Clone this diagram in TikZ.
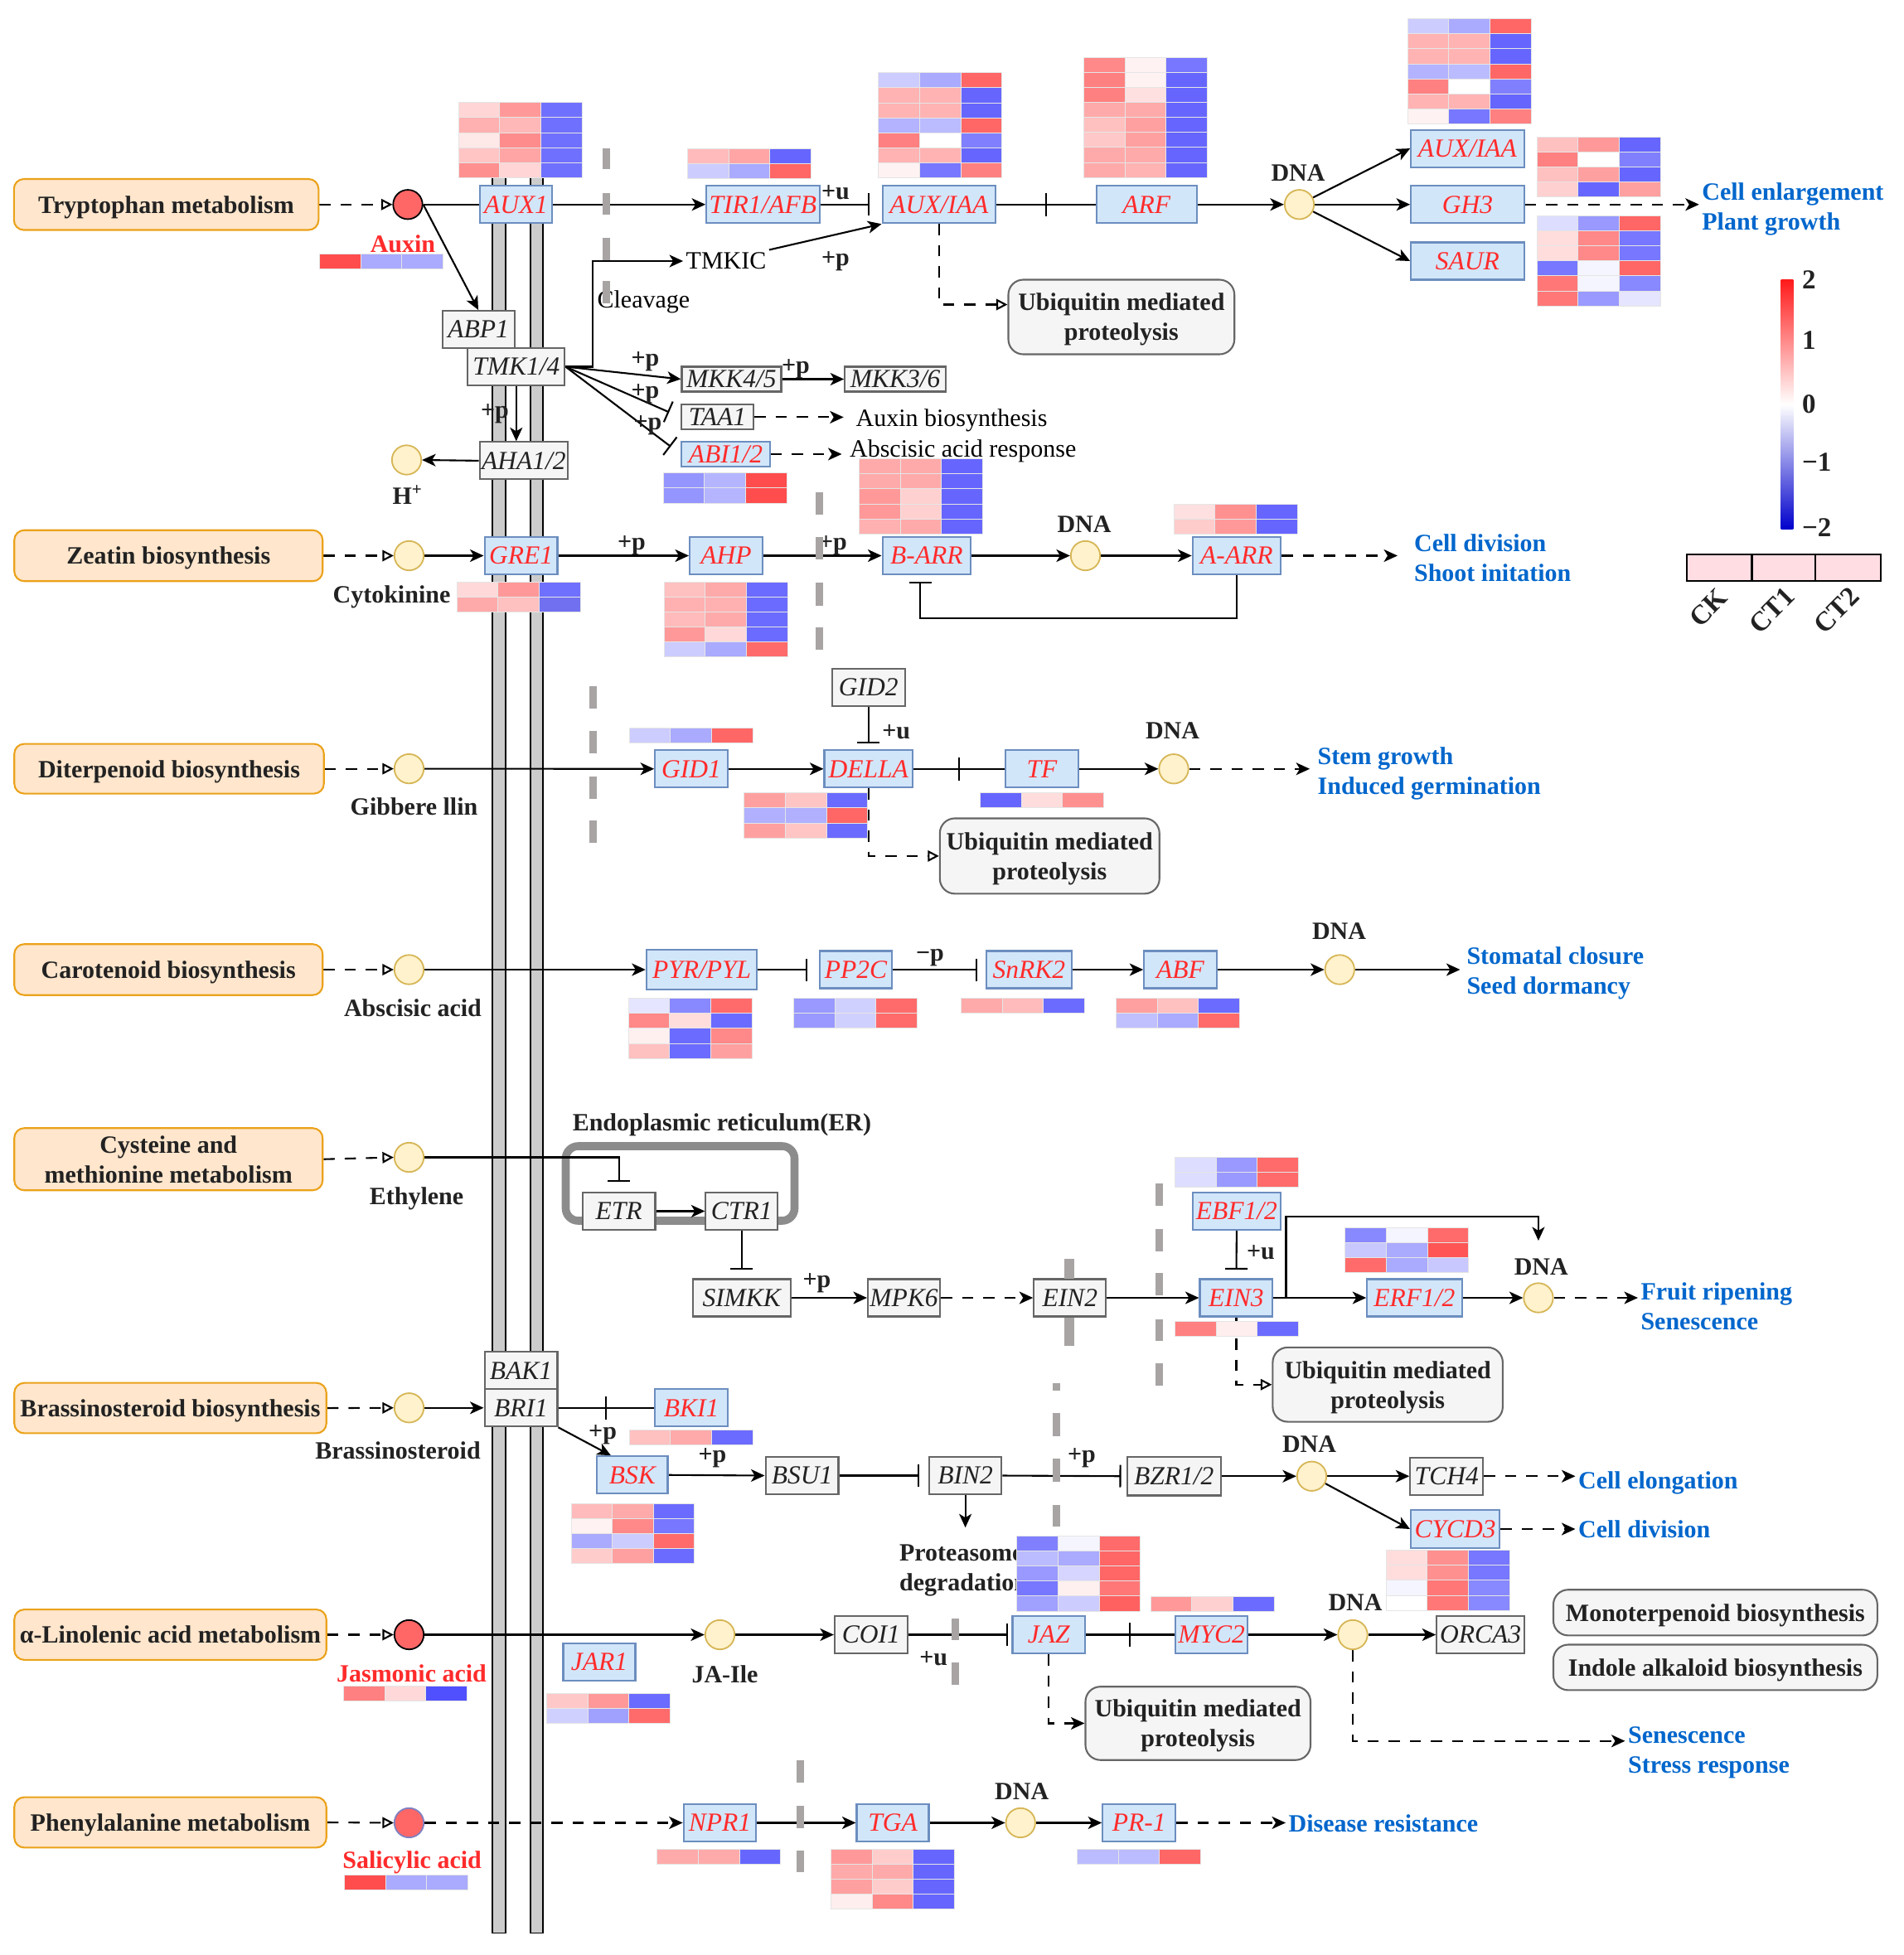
\documentclass[tikz,border=0pt]{standalone}
\usepackage{fontspec}
\setmainfont{Liberation Serif}
\usetikzlibrary{arrows.meta,calc,decorations.markings}
\pgfdeclarelayer{bg}\pgfdeclarelayer{fg}\pgfsetlayers{bg,main,fg}
\definecolor{orF}{HTML}{FFE6CC}
\definecolor{orD}{HTML}{EBA21A}
\definecolor{gbF}{HTML}{D2E6FA}
\definecolor{gbD}{HTML}{6C8EBF}
\definecolor{gnR}{HTML}{FF2B2B}
\definecolor{ggF}{HTML}{F5F5F5}
\definecolor{ggD}{HTML}{666666}
\definecolor{txD}{HTML}{222222}
\definecolor{mtF}{HTML}{FFF2CC}
\definecolor{mtD}{HTML}{D6B656}
\definecolor{rdF}{HTML}{FF6666}
\definecolor{blueOut}{HTML}{0066CC}
\definecolor{memG}{HTML}{CCCCCC}
\definecolor{mdG}{HTML}{A8A4A4}
\definecolor{erG}{HTML}{8C8C8C}
\definecolor{lgP}{HTML}{FFDDE3}
\definecolor{cbR}{HTML}{FF1A1A}
\definecolor{cbB}{HTML}{0000CC}
\definecolor{saD}{HTML}{8080C0}
\newcommand{\fT}{\fontsize{10}{12}\selectfont}
\newcommand{\fG}{\fontsize{10.5}{12}\selectfont\itshape}
\newcommand{\fL}{\fontsize{11}{13}\selectfont\bfseries}
\newcommand{\heatm}[3]{%
 \foreach \ca/\cb/\cc [count=\r from 0] in {#3}{%
  \definecolor{hmA}{HTML}{\ca}\definecolor{hmB}{HTML}{\cb}\definecolor{hmC}{HTML}{\cc}%
  \filldraw[hmcell,fill=hmA] ({#1},{#2+\r*12.1}) rectangle ++(33.1,12.1);
  \filldraw[hmcell,fill=hmB] ({#1+33.1},{#2+\r*12.1}) rectangle ++(33.1,12.1);
  \filldraw[hmcell,fill=hmC] ({#1+66.2},{#2+\r*12.1}) rectangle ++(33.1,12.1);
 }}
\begin{document}
\begin{tikzpicture}[x=0.5pt,y=-0.5pt,
 pw/.style={draw=orD, fill=orF, rounded corners=4pt, line width=0.7pt, font=\fT\bfseries, text=txD, align=center, inner sep=0pt, text depth=0pt},
 gb/.style={draw=gbD, fill=gbF, line width=0.7pt, font=\fG, text=gnR, inner sep=0pt, minimum height=15pt, text depth=0pt},
 gg/.style={draw=ggD, fill=ggF, line width=0.7pt, font=\fG, text=txD, inner sep=0pt, minimum height=15pt, text depth=0pt},
 mt/.style={circle, draw=mtD, fill=mtF, line width=0.6pt, minimum size=11.8pt, inner sep=0pt},
 rc/.style={circle, draw=black, fill=rdF, line width=0.6pt, minimum size=11.8pt, inner sep=0pt},
 ub/.style={draw=ggD, fill=ggF, rounded corners=6pt, line width=0.7pt, font=\fT\bfseries, text=txD, align=center, inner sep=0pt, text depth=0pt},
 lb/.style={font=\fT\bfseries, text=txD, inner sep=1pt, text depth=0pt},
 rg/.style={font=\fT, text=black, inner sep=1pt, text depth=0pt},
 ot/.style={font=\fT\bfseries, text=blueOut, align=left, anchor=west, inner sep=1pt, text depth=0pt},
 cn/.style={line width=0.7pt, draw=black},
 arr/.style={cn, -{Stealth[length=5.5pt,width=5pt,inset=1.5pt]}},
 inh/.style={cn, -{Bar[width=9pt]}},
 opt/.style={cn, -{Triangle[open,length=4.5pt,width=4.5pt]}},
 dsh/.style={dash pattern=on 4.5pt off 4pt},
 midbar/.style={postaction={decorate,decoration={markings,mark=at position 0.5 with {\draw[-,solid,line width=0.7pt] (0,-4.75pt) -- (0,4.75pt);}}}},
 memdash/.style={draw=mdG, line width=3pt},
 hmcell/.style={draw=black!10, line width=0.3pt}]
\useasboundingbox (0,0) rectangle (1531.33,1572.67);
\begin{pgfonlayer}{bg}
\fill[white] (0,0) rectangle (1531.33,1572.67);
\filldraw[fill=memG, draw=black, line width=0.5pt] (396,143) rectangle (406.5,1555);
\filldraw[fill=memG, draw=black, line width=0.5pt] (426.7,143) rectangle (436.8,1555);
\draw[draw=erG, line width=3.2pt, rounded corners=5pt] (455,922) rectangle (639,982);
\end{pgfonlayer}

% ---------- pathway boxes ----------
\node[pw, minimum width=122.5pt, minimum height=20.5pt] (pTrp) at (133.7,164.5) {Tryptophan metabolism};
\node[pw, minimum width=124pt, minimum height=20.5pt] (pZea) at (135.5,447) {Zeatin biosynthesis};
\node[pw, minimum width=124.5pt, minimum height=20pt] (pDit) at (136,618.4) {Diterpenoid biosynthesis};
\node[pw, minimum width=124pt, minimum height=20.5pt] (pCar) at (135.5,780) {Carotenoid biosynthesis};
\node[pw, minimum width=124pt, minimum height=25pt] (pCys) at (135.5,932.5) {Cysteine and\\methionine metabolism};
\node[pw, minimum width=125.5pt, minimum height=20.25pt] (pBra) at (137,1132.7) {Brassinosteroid biosynthesis};
\node[pw, minimum width=125.5pt, minimum height=20.25pt] (pLin) at (137,1315) {α-Linolenic acid metabolism};
\node[pw, minimum width=125.5pt, minimum height=20.25pt] (pPhe) at (137,1466) {Phenylalanine metabolism};

% ---------- circles ----------
\node[rc] (cAux) at (328,164.5) {};
\node[mt] (cH) at (327,370) {};
\node[mt] (cCyt) at (329,447) {};
\node[mt] (cGib) at (329,618.4) {};
\node[mt] (cAba) at (329,780) {};
\node[mt] (cEth) at (329,931) {};
\node[mt] (cBr) at (329,1132.5) {};
\node[rc] (cJa) at (329,1315) {};
\node[rc, draw=saD] (cSa) at (329,1466.3) {};
\node[mt] (dna1) at (1045,164.5) {};
\node[mt] (dna2) at (873,447) {};
\node[mt] (dna3) at (944,618.5) {};
\node[mt] (dna4) at (1077.5,780) {};
\node[mt] (dna5) at (1237.3,1044) {};
\node[mt] (dna6) at (1055,1187.5) {};
\node[mt] (cJaIle) at (579,1315) {};
\node[mt] (dna7) at (1088,1315) {};
\node[mt] (dna8) at (820.8,1466.3) {};

% ---------- genes row 1 ----------
\node[gb, minimum width=29pt] (aux1) at (415,164.5) {AUX1};
\node[gb, minimum width=45.5pt] (tir1) at (613.6,164.5) {TIR1/AFB};
\node[gb, minimum width=45.5pt] (auxiaa) at (755.2,164.5) {AUX/IAA};
\node[gb, minimum width=40.5pt] (arf) at (922.2,164.5) {ARF};
\node[gb, minimum width=45.5pt] (auxiaa2) at (1180.3,119.4) {AUX/IAA};
\node[gb, minimum width=45.5pt] (gh3) at (1180.3,164.5) {GH3};
\node[gb, minimum width=45.5pt] (saur) at (1180.3,210) {SAUR};
\node[gg, minimum width=29pt] (abp1) at (384.7,265) {ABP1};
\node[gg, minimum width=39pt] (tmk) at (415.2,295) {TMK1/4};
\node[gg, minimum width=35.5pt] (aha) at (421.3,370.6) {AHA1/2};
\node[gg, minimum width=40pt, minimum height=10pt] (mkk45) at (588.3,305) {MKK4/5};
\node[gg, minimum width=40.5pt, minimum height=10pt] (mkk36) at (720,305) {MKK3/6};
\node[gg, minimum width=29pt, minimum height=10pt] (taa1) at (577,335.6) {TAA1};
\node[gb, minimum width=35.5pt, minimum height=10pt] (abi) at (583.6,365.3) {ABI1/2};
% row 2
\node[gb, minimum width=29.3pt] (gre1) at (419,447) {GRE1};
\node[gb, minimum width=29.3pt] (ahp) at (584,447) {AHP};
\node[gb, minimum width=35.5pt] (barr) at (745.2,447) {B-ARR};
\node[gb, minimum width=35.5pt] (aarr) at (994.6,447) {A-ARR};
% row 3
\node[gb, minimum width=29.2pt] (gid1) at (556,618.5) {GID1};
\node[gb, minimum width=35.5pt] (della) at (698.5,618.5) {DELLA};
\node[gg, minimum width=29.2pt] (gid2) at (698.5,553) {GID2};
\node[gb, minimum width=29.2pt] (tf) at (838,618.5) {TF};
% row 4
\node[gb, minimum width=44.5pt, minimum height=16pt] (pyr) at (564.4,780) {PYR/PYL};
\node[gb, minimum width=29.2pt] (pp2c) at (688.4,780) {PP2C};
\node[gb, minimum width=34.2pt] (snrk2) at (827.6,780) {SnRK2};
\node[gb, minimum width=29.2pt] (abf) at (949.4,780) {ABF};
% row 5
\node[gg, minimum width=29.3pt] (etr) at (497.7,974.3) {ETR};
\node[gg, minimum width=28.9pt] (ctr1) at (596.5,974.3) {CTR1};
\node[gg, minimum width=39.3pt] (simkk) at (596.5,1044) {SIMKK};
\node[gg, minimum width=29pt] (mpk6) at (727,1044) {MPK6};
\node[gg, minimum width=29pt] (ein2) at (860.5,1044) {EIN2};
\node[gb, minimum width=29.3pt] (ein3) at (994.3,1044) {EIN3};
\node[gb, minimum width=35.4pt] (ebf) at (994.6,974.3) {EBF1/2};
\node[gb, minimum width=38.1pt] (erf) at (1137.6,1044) {ERF1/2};
% row 6
\node[gg, minimum width=29.3pt] (bak1) at (419,1102.5) {BAK1};
\node[gg, minimum width=29.3pt] (bri1) at (419,1132.5) {BRI1};
\node[gb, minimum width=29.2pt] (bki1) at (556,1132.5) {BKI1};
\node[gb, minimum width=28.5pt] (bsk) at (508.5,1186.5) {BSK};
\node[gg, minimum width=29.3pt] (bsu1) at (645,1187) {BSU1};
\node[gg, minimum width=29.2pt] (bin2) at (776.4,1187) {BIN2};
\node[gg, minimum width=37.8pt, minimum height=15.5pt] (bzr) at (944.2,1187.5) {BZR1/2};
\node[gg, minimum width=29.3pt] (tch4) at (1163.5,1187.5) {TCH4};
\node[gb, minimum width=35.7pt, minimum height=15.5pt] (cycd3) at (1170.4,1230) {CYCD3};
% row 7
\node[gb, minimum width=29pt] (jar1) at (482,1337) {JAR1};
\node[gg, minimum width=29.3pt] (coi1) at (700.6,1315) {COI1};
\node[gb, minimum width=29.2pt] (jaz) at (843.5,1315) {JAZ};
\node[gb, minimum width=29.2pt] (myc2) at (974.4,1315) {MYC2};
\node[gg, minimum width=35.2pt] (orca3) at (1190.7,1315) {ORCA3};
% row 8
\node[gb, minimum width=29.2pt] (npr1) at (579,1466.3) {NPR1};
\node[gb, minimum width=29pt] (tga) at (718,1466.3) {TGA};
\node[gb, minimum width=29.4pt] (pr1) at (916.2,1466.3) {PR-1};

% ---------- grey rounded boxes ----------
\node[ub, minimum width=90.9pt, minimum height=30pt] (ub1) at (901.9,255) {Ubiquitin mediated\\proteolysis};
\node[ub, minimum width=88.3pt, minimum height=30.3pt] (ub2) at (844.2,688.6) {Ubiquitin mediated\\proteolysis};
\node[ub, minimum width=92.5pt, minimum height=29.9pt] (ub3) at (1116.1,1113.8) {Ubiquitin mediated\\proteolysis};
\node[ub, minimum width=90.5pt, minimum height=29.5pt] (ub4) at (963.5,1386.3) {Ubiquitin mediated\\proteolysis};
\node[ub, minimum width=130.3pt, minimum height=18.4pt] (mono) at (1379.6,1297.2) {Monoterpenoid biosynthesis};
\node[ub, minimum width=130.3pt, minimum height=18.3pt] (indole) at (1379.6,1341.3) {Indole alkaloid biosynthesis};

% ---------- labels ----------
\node[lb, text=gnR] (tAux) at (324,196) {Auxin};
\node[lb] (tH) at (328,398) {H\textsuperscript{+}};
\node[lb] (tCyt) at (315,478) {Cytokinine};
\node[lb] (tGib) at (333,649) {Gibbere llin};
\node[lb] (tAba) at (332,811) {Abscisic acid};
\node[lb] (tEth) at (335,962) {Ethylene};
\node[lb] (tBr) at (320,1167) {Brassinosteroid};
\node[lb, text=gnR] (tJa) at (331,1346) {Jasmonic acid};
\node[lb, text=gnR] (tSa) at (331.4,1496) {Salicylic acid};
\node[lb] (tJaIle) at (583,1347) {JA-Ile};
\node[lb] (dL1) at (1044,139) {DNA};
\node[lb] (dL2) at (872,422) {DNA};
\node[lb] (dL3) at (943,588) {DNA};
\node[lb] (dL4) at (1077,749) {DNA};
\node[lb] (dL5) at (1239.5,1019) {DNA};
\node[lb] (dL6) at (1053,1162) {DNA};
\node[lb] (dL7) at (1090,1289) {DNA};
\node[lb] (dL8) at (821.8,1441) {DNA};
\node[lb] (lu1) at (672,155) {+u};
\node[lb] (lu2) at (720.8,589) {+u};
\node[lb] (lu3) at (1014,1007.5) {+u};
\node[lb] (lu4) at (750.8,1334) {+u};
\node[lb] (lp1) at (672,208) {+p};
\node[lb] (lp2) at (398,331) {+p};
\node[lb] (lp3) at (519,289) {+p};
\node[lb] (lp4) at (519,315) {+p};
\node[lb] (lp5) at (521,340) {+p};
\node[lb] (lp6) at (640,295) {+p};
\node[lb] (lp7) at (508,437) {+p};
\node[lb] (lp8) at (670,437) {+p};
\node[lb] (lp9) at (657,1030) {+p};
\node[lb] (lp10) at (484.7,1152) {+p};
\node[lb] (lp11) at (573,1171) {+p};
\node[lb] (lp12) at (870,1171) {+p};
\node[lb] (lm1) at (748,768) {−p};
\node[rg, anchor=west] (tTMKIC) at (549.4,210) {TMKIC};
\node[rg, anchor=west] (tClv) at (478,241) {Cleavage};
\node[rg, anchor=west] (tAB) at (686,336) {Auxin biosynthesis};
\node[rg, anchor=west] (tAAR) at (681,360.5) {Abscisic acid response};
\node[lb, anchor=west, align=left] (tProt) at (721,1261) {Proteasome\\degradation};
\node[lb] (tER) at (580.6,903) {Endoplasmic reticulum(ER)};
\coordinate (byp) at (1237.3,998);
\coordinate (protTop) at (776.4,1228.8);

% ---------- outcome texts ----------
\node[ot] (outA) at (1366.5,166) {Cell enlargement\\Plant growth};
\node[ot] (outB) at (1135,448.6) {Cell division\\Shoot initation};
\node[ot] (outC) at (1057.4,619.8) {Stem growth\\Induced germination};
\node[ot] (outD) at (1177.3,780.5) {Stomatal closure\\Seed dormancy};
\node[ot] (outE) at (1317.3,1051) {Fruit ripening\\Senescence};
\node[ot] (outF) at (1267,1191) {Cell elongation};
\node[ot] (outG) at (1267,1230) {Cell division};
\node[ot] (outH) at (1307,1407.5) {Senescence\\Stress response};
\node[ot] (outI) at (1034,1467) {Disease resistance};

% ---------- legend ----------
\shade[top color=cbR, bottom color=cbB, middle color=white] (1432.4,225) rectangle (1442.2,425.8);
\node[font=\fL, text=txD, anchor=west, inner sep=1pt] (cb2) at (1447,225) {2};
\node[font=\fL, text=txD, anchor=west, inner sep=1pt] (cb1) at (1447,274) {1};
\node[font=\fL, text=txD, anchor=west, inner sep=1pt] (cb0) at (1447,325) {0};
\node[font=\fL, text=txD, anchor=west, inner sep=1pt] (cbm1) at (1447,371.5) {−1};
\node[font=\fL, text=txD, anchor=west, inner sep=1pt] (cbm2) at (1447,424.5) {−2};
\draw[fill=lgP, line width=0.8pt] (1356.8,445.8) rectangle (1408.9,467.3);
\draw[fill=lgP, line width=0.8pt] (1408.9,445.8) rectangle (1460.1,467.3);
\draw[fill=lgP, line width=0.8pt] (1460.1,445.8) rectangle (1512.5,467.3);
\node[font=\fL, text=txD, rotate=45, inner sep=0pt] (lCK) at (1374,489) {CK};
\node[font=\fL, text=txD, rotate=45, inner sep=0pt] (lCT1) at (1425,491) {CT1};
\node[font=\fL, text=txD, rotate=45, inner sep=0pt] (lCT2) at (1477,491) {CT2};

% ---------- membrane dashes ----------
\foreach \ya/\yb in {119/136,155/172.5,191/209,226/244} \draw[memdash] (487.6,\ya) -- (487.6,\yb);
\foreach \ya/\yb in {396/414,432/450,468.8/487,504.6/522.8} \draw[memdash] (659.2,\ya) -- (659.2,\yb);
\foreach \ya/\yb in {552/570,588/606,624.5/642.5,660.3/678.3} \draw[memdash] (477,\ya) -- (477,\yb);
\foreach \ya/\yb in {1012.5/1028.7,1059.7/1082.5} \draw[memdash, line width=4pt] (859.9,\ya) -- (859.9,\yb);
\foreach \ya/\yb in {1112.5/1118.5,1136.7/1155,1173.2/1192,1210.5/1228} \draw[memdash] (849.5,\ya) -- (849.5,\yb);
\foreach \ya/\yb in {952/970,988.7/1006.7,1024/1042,1061/1078.7,1096.7/1114.7} \draw[memdash] (932.5,\ya) -- (932.5,\yb);
\foreach \ya/\yb in {1301.75/1319,1337.5/1355.5} \draw[memdash] (768,\ya) -- (768,\yb);
\foreach \ya/\yb in {1415.75/1433.75,1452.5/1470.5,1488.75/1506.25} \draw[memdash] (643.6,\ya) -- (643.6,\yb);

% ---------- connectors ----------
\begin{pgfonlayer}{bg}
% row 1
\draw[opt,dsh] (pTrp.east) -- (cAux.west);
\draw[cn] (cAux.east) -- (aux1.west);
\draw[arr] (aux1.east) -- (tir1.west);
\draw[inh, shorten >=4.8pt] (tir1.east) -- (auxiaa.west);
\draw[cn, midbar] (auxiaa.east) -- (arf.west);
\draw[arr] (arf.east) -- (dna1.west);
\draw[arr] (dna1) -- (auxiaa2.west);
\draw[arr] (dna1.east) -- (gh3.west);
\draw[arr] (dna1) -- (saur.west);
\draw[arr,dsh] (gh3.east) -- (gh3.east -| outA.west);
\draw[opt,dsh] (auxiaa.south) |- ([yshift=5pt]ub1.west);
\draw[arr] (cAux.east) -- (abp1.north);
\draw[arr] (tmk.south) -- (tmk.south |- aha.north);
\draw[arr] (aha.west) -- (cH.east);
\draw[arr] (tmk.east) -- ++(11pt,0) |- (tTMKIC.west);
\draw[arr] (tTMKIC.north east) -- (auxiaa.south west);
\draw[arr] (tmk.east) -- (mkk45.west);
\draw[inh, shorten >=5pt] (tmk.east) -- (taa1.west);
\draw[inh, shorten >=5pt] (tmk.east) -- (abi.west);
\draw[arr] (mkk45.east) -- (mkk36.west);
\draw[arr,dsh, shorten >=3.75pt] (taa1.east) -- (taa1.east -| tAB.west);
\draw[arr,dsh, shorten >=2pt] (abi.east) -- (abi.east -| tAAR.west);
% row 2
\draw[opt,dsh] (pZea.east) -- (cCyt.west);
\draw[arr] (cCyt.east) -- (gre1.west);
\draw[arr] (gre1.east) -- (ahp.west);
\draw[arr] (ahp.east) -- (barr.west);
\draw[arr] (barr.east) -- (dna2.west);
\draw[arr] (dna2.east) -- (aarr.west);
\draw[arr,dsh, shorten >=5.5pt] (aarr.east) -- (aarr.east -| outB.west);
\draw[inh, shorten >=2.5pt] (aarr.south) -- ++(0,-17.25pt) -| ([xshift=-2.5pt]barr.south);
% row 3
\draw[opt,dsh] (pDit.east) -- (cGib.west);
\draw[arr] (cGib.east) -- (gid1.west);
\draw[arr] (gid1.east) -- (della.west);
\draw[inh, shorten >=2.5pt] (gid2.south) -- (della.north);
\draw[cn, midbar] (della.east) -- (tf.west);
\draw[arr] (tf.east) -- (dna3.west);
\draw[arr,dsh, shorten >=2pt] (dna3.east) -- (dna3.east -| outC.west);
\draw[opt,dsh] (della.south) |- (ub2.west);
% row 4
\draw[opt,dsh] (pCar.east) -- (cAba.west);
\draw[arr] (cAba.east) -- (pyr.west);
\draw[inh, shorten >=4.5pt] (pyr.east) -- (pp2c.west);
\draw[inh, shorten >=3.2pt] (pp2c.east) -- (snrk2.west);
\draw[arr] (snrk2.east) -- (abf.west);
\draw[arr] (abf.east) -- (dna4.west);
\draw[arr, shorten >=1.5pt] (dna4.east) -- (dna4.east -| outD.west);
% row 5
\draw[opt,dsh] (pCys.east) -- (cEth.west);
\draw[inh, shorten >=4pt] (cEth.east) -| (etr.north);
\draw[arr] (etr.east) -- (ctr1.west);
\draw[inh, shorten >=3.5pt] (ctr1.south) -- (simkk.north);
\draw[arr] (simkk.east) -- (mpk6.west);
\draw[arr,dsh] (mpk6.east) -- (ein2.west);
\draw[arr] (ein2.east) -- (ein3.west);
\draw[inh, shorten >=3.5pt] (ebf.south) -- (ein3.north);
\draw[arr] (ein3.east) -- (erf.west);
\draw[arr] ([xshift=5pt]ein3.east) -- ++(0,32.65pt) -| (byp);
\draw[arr] (erf.east) -- (dna5.west);
\draw[arr,dsh] (dna5.east) -- (dna5.east -| outE.west);
\draw[opt,dsh] (ein3.south) |- (ub3.west);
% row 6
\draw[opt,dsh] (pBra.east) -- (cBr.west);
\draw[arr] (cBr.east) -- (bri1.west);
\draw[cn, midbar] (bri1.east) -- (bki1.west);
\draw[arr] (bri1.south east) -- ([xshift=6pt]bsk.north west);
\draw[arr] (bsk.east) -- (bsu1.west);
\draw[inh, shorten >=3.5pt] (bsu1.east) -- (bin2.west);
\draw[arr] (bin2.south) -- (protTop);
\draw[inh, shorten >=2pt] (bin2.east) -- (bzr.west);
\draw[arr] (bzr.east) -- (dna6.west);
\draw[arr] (dna6.east) -- (tch4.west);
\draw[arr] (dna6) -- (cycd3.west);
\draw[arr,dsh] (tch4.east) -- (tch4.east -| outF.west);
\draw[arr,dsh] (cycd3.east) -- (cycd3.east -| outG.west);
% row 7
\draw[opt,dsh] (pLin.east) -- (cJa.west);
\draw[arr] (cJa.east) -- (cJaIle.west);
\draw[arr] (cJaIle.east) -- (coi1.west);
\draw[inh, shorten >=1.5pt] (coi1.east) -- (jaz.west);
\draw[cn, midbar] (jaz.east) -- (myc2.west);
\draw[arr] (myc2.east) -- (dna7.west);
\draw[arr] (dna7.east) -- (orca3.west);
\draw[arr,dsh] (dna7.south) |- ([yshift=3.5pt]outH.west);
\draw[arr,dsh] (jaz.south) |- (ub4.west);
% row 8
\draw[opt,dsh] (pPhe.east) -- (cSa.west);
\draw[arr,dsh] (cSa.east) -- (npr1.west);
\draw[arr] (npr1.east) -- (tga.west);
\draw[arr] (tga.east) -- (dna8.west);
\draw[arr] (dna8.east) -- (pr1.west);
\draw[arr,dsh] (pr1.east) -- (pr1.east -| outI.west);
\end{pgfonlayer}

% ---------- heatmaps ----------
\begin{pgfonlayer}{fg}
\heatm{368.7}{82.5}{FFD5D5/FF9999/7070FF,FFB0B0/FFB8B8/7070FF,FFE8E8/FF8C8C/7070FF,FFC5C5/FFA5A5/7070FF,FF9090/FFD5D5/7070FF}
\heatm{553}{119.5}{FFBBBB/FFA5A5/6666FF,CCCCFF/AAAAFF/FF6666}
\heatm{706.5}{58.5}{CCCCFF/AAAAFF/FF6666,FFB3B3/FFB3B3/6666FF,FFB3B3/FFB3B3/6666FF,B3B3FF/BBBBFF/FF6666,FF8080/FFFFFF/8080FF,FFB3B3/FFB3B3/6666FF,FFF2F2/7777FF/FF8080}
\heatm{871.6}{46}{FF8888/FFF2F2/7777FF,FF8080/FFF2F2/6666FF,FF8080/FFE0E0/6666FF,FFAAAA/FFAAAA/6666FF,FFC0C0/FFA0A0/6666FF,FFC8C8/FFA0A0/6666FF,FFAAAA/FFAAAA/6666FF,FFAAAA/FFB3B3/6666FF}
\heatm{1132}{15}{CCCCFF/AAAAFF/FF6666,FFB3B3/FFB3B3/6666FF,FFB3B3/FFB3B3/6666FF,B3B3FF/BBBBFF/FF6666,FF8080/FFFFFF/8080FF,FFB3B3/FFB3B3/6666FF,FFF2F2/7777FF/FF8080}
\heatm{1236}{110}{FFC0C0/FF9999/6666FF,FF8080/FFFFFF/8080FF,FFC0C0/FFA0A0/6666FF,FFD0D0/6666FF/FFA0A0}
\heatm{1236}{173.5}{DDDDFF/9999FF/FF6666,FFDDDD/FF8888/7777FF,FFDDDD/FF8888/7777FF,7777FF/F5F5FF/FF6666,FF7777/F5F5FF/8888FF,FF7777/9999FF/E5E5FF}
\heatm{257}{204}{FF4D4D/AAAAFF/AAAAFF}
\heatm{533.5}{380.5}{9595FF/B5B5FF/FF4D4D,9595FF/B5B5FF/FF4D4D}
\heatm{691}{369}{FFAAAA/FFAAAA/6666FF,FFAAAA/FFAAAA/6666FF,FF9999/FFD0D0/6666FF,FF9999/FFD0D0/6666FF,FFB0B0/FFAAAA/6666FF}
\heatm{367.4}{468}{FFD9D9/FF9999/7070FF,FFAAAA/FFC0C0/7070F0}
\heatm{534}{468}{FFC0C0/FFAAAA/6B6BFF,FFB0B0/FFB0B0/6B6BFF,FFBBBB/FFAAAA/6B6BFF,FF9999/FFD9D9/6B6BFF,CCCCFF/AAAAFF/FF6B6B}
\heatm{944}{405.5}{FFE0E0/FF9090/6666FF,FFCCCC/FF9999/6666FF}
\heatm{506}{585.5}{CCCCFF/AAAAFF/FF6666}
\heatm{598.6}{637.8}{FFA0A0/FFC5C5/6B6BFF,B0B0FF/B0B0FF/FF6666,FFA0A0/FFC5C5/6B6BFF}
\heatm{788.2}{637.8}{6666FF/FFDDDD/FF9090}
\heatm{505.5}{803}{E5E5FF/8888FF/FF6B6B,FF8888/FFDDDD/6B6BFF,FFF0F0/6B6BFF/FF8888,FFC0C0/6B6BFF/FFA0A0}
\heatm{638.4}{803}{9999FF/D0D0FF/FF6B6B,9999FF/D0D0FF/FF6B6B}
\heatm{773}{803}{FFAAAA/FFBBBB/6B6BFF}
\heatm{897.7}{803}{FFA0A0/FFC0C0/6B6BFF,C0C0FF/AAAAFF/FF6B6B}
\heatm{945}{931}{DDDDFF/9999FF/FF6B6B,DDDDFF/9999FF/FF6B6B}
\heatm{945}{1063}{FF8080/FFEEEE/6B6BFF}
\heatm{1081.9}{987.5}{8888FF/F5F5FF/FF6B6B,C8C8FF/AAAAFF/FF5555,FF6B6B/AAAAFF/C8C8FF}
\heatm{506}{1150.5}{FFC0C0/FFAAAA/6B6BFF}
\heatm{459.3}{1209.5}{FFBBBB/FFAAAA/6B6BFF,FFF2F2/FF8888/7777FF,AAAAFF/CCCCFF/FF6B6B,FFCCCC/FFA0A0/6B6BFF}
\heatm{817.9}{1235.5}{8080FF/F5F5FF/FF6B6B,BBBBFF/AAAAFF/FF6666,9999FF/D5D5FF/FF6666,7777FF/FFF0F0/FF7777,A0A0FF/CCCCFF/FF6060}
\heatm{1114.8}{1247}{FFDDDD/FF9090/7777FF,FFDDDD/FF9090/7777FF,F5F5FF/FF7777/8888FF,FFFFFF/FF7777/8888FF}
\heatm{925.4}{1284.5}{FF9999/FFD0D0/6B6BFF}
\heatm{439.7}{1362}{FFC8C8/FF9999/6B6BFF,D0D0FF/A0A0FF/FF6B6B}
\heatm{276.3}{1356}{FF8080/FFD9D9/5050FF}
\heatm{277}{1508}{FF4D4D/AAAAFF/AAAAFF}
\heatm{528.6}{1487.5}{FFAAAA/FFAAAA/6666FF}
\heatm{668.4}{1487.5}{FF9999/FFCCCC/6666FF,FFAAAA/FFAAAA/6666FF,FFA0A0/FFCCCC/6666FF,FFEEEE/FF8888/6666FF}
\heatm{866.4}{1487.5}{BBBBFF/BBBBFF/FF6666}
\end{pgfonlayer}
\end{tikzpicture}
\end{document}
